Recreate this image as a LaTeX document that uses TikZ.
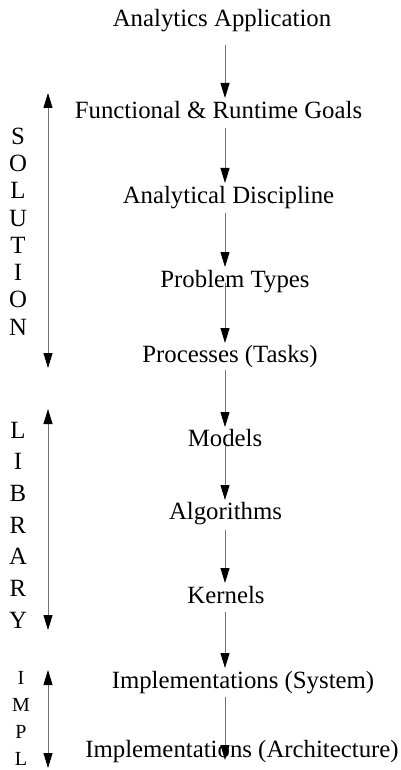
\documentclass[tikz,border=0pt]{standalone}
\usepackage{fontspec}
\setmainfont{Liberation Serif}
\usetikzlibrary{calc,arrows.meta}

\begin{document}
\begin{tikzpicture}[x=1pt,y=1pt]
	\tikzset{stage/.style={anchor=base,inner sep=0,font=\fontsize{24.8}{28}\selectfont},
		flow/.style={draw=black!55,line width=1pt,-{Triangle[length=15pt,width=9pt,color=black]}},
		span/.style={draw=black!55,line width=1pt,{Triangle[length=15pt,width=9pt,color=black]}-{Triangle[length=15pt,width=9pt,color=black]}},
		layer/.style={inner sep=0,align=center}}
	\useasboundingbox (0,0) rectangle (401,-770);
	\coordinate (spine) at (225,0);
	% stages
	\node[stage] at (222,-27) (app){Analytics Application};
	\node[stage] at (218.5,-119) (goal){Functional \& Runtime Goals};
	\node[stage] at (228.5,-203) (disc){Analytical Discipline};
	\node[stage] at (235,-287) (prob){Problem Types};
	\node[stage] at (230,-362) (proc){Processes (Tasks)};
	\node[stage] at (225,-446) (model){Models};
	\node[stage] at (225.5,-519) (algo){Algorithms};
	\node[stage] at (226,-603) (kern){Kernels};
	\node[stage] at (243,-688) (sys){Implementations (System)};
	\node[stage] at (242,-757) (arch){Implementations (Architecture)};
	\draw[flow] ($(app.base -| spine)+(0,-18)$) -- ($(goal.base -| spine)+(0,21)$);
	\draw[flow] ($(goal.base -| spine)+(0,-9)$) -- ($(disc.base -| spine)+(0,20)$);
	\draw[flow] ($(disc.base -| spine)+(0,-10)$) -- ($(prob.base -| spine)+(0,20)$);
	\draw[flow] ($(prob.base -| spine)+(0,4)$) -- ($(proc.base -| spine)+(0,19)$);
	\draw[flow] ($(proc.base -| spine)+(0,-8)$) -- ($(model.base -| spine)+(0,19)$);
	\draw[flow] ($(model.base -| spine)+(0,1)$) -- ($(algo.base -| spine)+(0,19)$);
	\draw[flow] ($(algo.base -| spine)+(0,-11)$) -- ($(kern.base -| spine)+(0,20)$);
	\draw[flow] ($(kern.base -| spine)+(0,-9)$) -- ($(sys.base -| spine)+(0,20)$);
	\draw[flow] ($(sys.base -| spine)+(0,-9)$) -- ($(arch.base -| spine)+(0,-3)$);
	% layers
	\node[layer,font=\fontsize{24.8}{27.3}\selectfont] at (18,-231.5) (sol){S\\O\\L\\U\\T\\I\\O\\N};
	\node[layer,font=\fontsize{24.8}{31.7}\selectfont] at (18,-525) (lib){L\\I\\B\\R\\A\\R\\Y};
	\node[layer,font=\fontsize{20}{27}\selectfont] at (21,-718.5) (impl){I\\M\\P\\L};
	\coordinate (solTop) at (48,-93);
	\coordinate (solBot) at (48,-368);
	\coordinate (libTop) at (48,-409);
	\coordinate (libBot) at (48,-630);
	\coordinate (implTop) at (48,-670);
	\coordinate (implBot) at (48,-768);
	\draw[span] (solTop) -- (solBot);
	\draw[span] (libTop) -- (libBot);
	\draw[span] (implTop) -- (implBot);
\end{tikzpicture}
\end{document}
